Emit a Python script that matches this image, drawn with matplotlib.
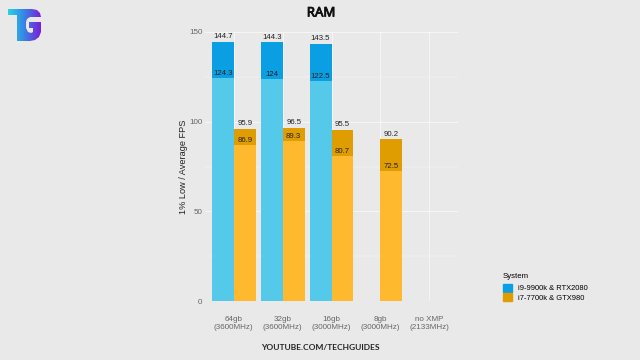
import matplotlib
matplotlib.use("Agg")
import matplotlib.pyplot as plt
import matplotlib.patheffects as pe
import numpy as np
from matplotlib.patches import Patch, Polygon

categories = ["64gb\n(3600MHz)", "32gb\n(3600MHz)", "16gb\n(3000MHz)", "8gb\n(3000MHz)", "no XMP\n(2133MHz)"]
i9_avg = [144.7, 144.3, 143.5, None, None]
i9_low = [124.3, 124, 122.5, None, None]
i7_avg = [95.9, 96.5, 95.5, 90.2, None]
i7_low = [86.9, 89.3, 80.7, 72.5, None]
y_ticks = [0, 50, 100, 150]

bg = "#e9e9e9"
plt.rcParams["font.family"] = ["Liberation Sans", "DejaVu Sans"]

fig = plt.figure(figsize=(6.4, 3.6), dpi=100, facecolor=bg)
ax = fig.add_axes([204.5 / 640, 1 - 301 / 360, 254 / 640, 269 / 360], facecolor=bg)


def draw_bars(offset, avg, low, dark, light):
    for i in range(len(categories)):
        if avg[i] is None:
            continue
        x = i + offset
        ax.bar(x, avg[i], 0.45, color=dark, zorder=3)
        ax.bar(x, low[i], 0.45, color=light, zorder=4)
        ax.text(x, avg[i] + 0.9, str(avg[i]), ha="center", va="bottom", fontsize=5.6, color="#222222", zorder=5)
        ax.text(x, low[i] + 0.6, str(low[i]), ha="center", va="bottom", fontsize=5.6, color="#222222", zorder=5)


draw_bars(-0.225, i9_avg, i9_low, "#0a9fe2", "#55c9e9")
draw_bars(0.225, i7_avg, i7_low, "#e09d02", "#ffb92e")

ax.set_xlim(-0.6, 4.6)
ax.set_ylim(0, 150)
ax.set_xticks(range(len(categories)))
ax.set_xticklabels(categories, fontsize=5.8, color="#666666", linespacing=1.05)
ax.set_yticks(y_ticks)
ax.set_yticklabels(y_ticks, fontsize=5.8, color="#666666")
ax.set_yticks([25, 75, 125], minor=True)
ax.tick_params(axis="y", which="both", length=0, pad=1.5)
ax.tick_params(axis="x", which="both", length=0, pad=11)
ax.grid(True, which="major", color="#f8f8f8", linewidth=0.6, zorder=0)
ax.grid(True, which="minor", axis="y", color="#f8f8f8", linewidth=0.35, zorder=0)
for s in ax.spines.values():
    s.set_visible(False)
ax.set_ylabel("1% Low / Average FPS", fontsize=6.6, color="#222222", labelpad=1)

fig.text(321 / 640, 1 - 13 / 360, "RAM", ha="center", va="center", fontsize=9.5, family="Noto Sans", color="#111111",
         path_effects=[pe.withStroke(linewidth=0.6, foreground="#111111")])
fig.text(320 / 640, 1 - 348 / 360, "YOUTUBE.COM/TECHGUIDES", ha="center", va="center", fontsize=6,
         fontweight="bold", family="Lato", color="#222222")

handles = [Patch(color="#0a9fe2", label="i9-9900k & RTX2080"), Patch(color="#e09d02", label="i7-7700k & GTX980")]
leg = fig.legend(handles=handles, title="System", loc="lower left", bbox_to_anchor=(503 / 640, 1 - 301.5 / 360),
                 frameon=False, fontsize=5.4, title_fontsize=5.6, handlelength=1.2, handleheight=1.2,
                 handletextpad=0.8, labelspacing=0.1, borderpad=0, borderaxespad=0, alignment="left")
leg._legend_box.sep = 3

# logo: gradient clipped to a TG outline, pixel coords
logo = fig.add_axes([0, 1 - 50 / 360, 60 / 640, 50 / 360])
logo.axis("off")
outline = [(8, 9), (32, 9), (37, 10), (40, 13), (41, 17), (30, 17), (27, 19), (26, 22), (26, 28), (28, 32),
           (31, 33), (33, 32), (33, 28), (29, 28), (29, 22), (41, 22), (41, 32), (39, 37), (35, 40), (30, 41),
           (17, 41), (17, 15), (8, 15)]
stops = np.array([[0.16, 0.82, 0.90], [0.20, 0.55, 0.90], [0.48, 0.12, 0.85]])
pos = np.linspace(0, 1, 64)
img = np.stack([np.interp(pos, [0, 0.45, 1], stops[:, k]) for k in range(3)], axis=-1)[None, :, :]
im = logo.imshow(img, extent=(8, 41, 41, 9), aspect="auto", interpolation="bilinear")
patch = Polygon(outline, closed=True, transform=logo.transData, facecolor="none", edgecolor="none")
logo.add_patch(patch)
im.set_clip_path(patch)
logo.set_xlim(0, 60)
logo.set_ylim(50, 0)

fig.savefig("out.png", dpi=100, facecolor=bg)
